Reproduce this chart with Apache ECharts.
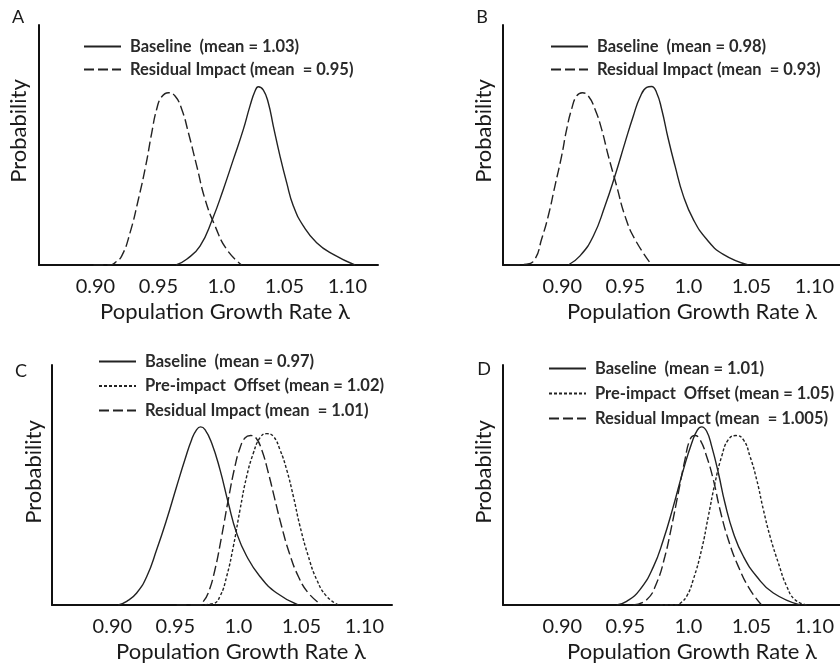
<!DOCTYPE html>
<html>
<head>
<meta charset="utf-8">
<script src="https://cdn.jsdelivr.net/npm/echarts@6/dist/echarts.min.js"></script>
<style>
html,body{margin:0;padding:0;background:#fff;}
#chart{width:840px;height:666px;}
</style>
</head>
<body>
<div id="chart"></div>
<script>
// ---- data ----
const tickValues = [0.90, 0.95, 1.00, 1.05, 1.10];
const tickLabels = ['0.90', '0.95', '1.0', '1.05', '1.10'];
const panelLetters = ['A', 'B', 'C', 'D'];
const xTitle = 'Population Growth Rate λ';
const yTitle = 'Probability';

// Panel A
const aBaseName = 'Baseline  (mean = 1.03)';
const aBaseX = [0.9640,0.9724,0.9830,0.9928,1.0015,1.0095,1.0174,1.0227,1.0267,1.0293,1.0333,1.0372,1.0412,1.0465,1.0518,1.0571,1.0650,1.0756,1.0888,1.1060];
const aBaseY = [0,2.4,7.9,19.0,31.5,44.0,56.5,66.3,72.5,74.3,72.9,67.6,57.9,45.4,34.3,24.6,16.3,9.3,4.4,0];
const aResName = 'Residual Impact (mean  = 0.95)';
const aResX = [0.8984,0.9116,0.9156,0.9209,0.9275,0.9341,0.9399,0.9447,0.9486,0.9526,0.9579,0.9632,0.9685,0.9738,0.9804,0.9870,0.9949,1.0042,1.0161];
const aResY = [0,0,1.0,3.8,13.5,27.4,41.3,55.1,64.9,70.1,71.8,70.4,64.9,55.1,41.3,27.4,16.3,6.5,0];

// Panel B
const bBaseName = 'Baseline  (mean = 0.98)';
const bBaseX = [0.9047,0.9140,0.9246,0.9338,0.9417,0.9497,0.9563,0.9616,0.9669,0.9708,0.9748,0.9788,0.9841,0.9894,0.9960,1.0039,1.0145,1.0277,1.0476];
const bBaseY = [0,3.8,12.1,24.6,37.1,51.0,62.1,69.9,74.0,74.4,71.8,64.9,52.4,41.3,28.8,19.0,10.7,4.4,0];
const bResName = 'Residual Impact (mean  = 0.93)';
const bResX = [0.8584,0.8716,0.8782,0.8835,0.8888,0.8941,0.8994,0.9034,0.9073,0.9113,0.9158,0.9206,0.9259,0.9312,0.9365,0.9431,0.9497,0.9576,0.9709];
const bResY = [0,0.3,2.4,10.7,20.4,32.9,45.4,56.5,64.9,70.4,71.8,70.4,64.9,56.5,45.4,32.9,20.4,10.7,0];

// Panel C
const cBaseName = 'Baseline  (mean = 0.97)';
const cBaseX = [0.9047,0.9114,0.9193,0.9273,0.9352,0.9431,0.9510,0.9576,0.9629,0.9669,0.9700,0.9735,0.9788,0.9854,0.9920,0.9986,1.0066,1.0171,1.0304,1.0475];
const cBaseY = [0,1.5,5.0,11.9,23.1,35.6,49.4,60.6,68.9,73.1,74.2,73.1,67.5,56.4,42.5,30.0,20.3,11.9,5.0,0];
const cPreName = 'Pre-impact  Offset (mean = 1.02)';
const cPreX = [0.9695,0.9801,0.9854,0.9907,0.9960,1.0013,1.0066,1.0119,1.0171,1.0224,1.0277,1.0330,1.0383,1.0436,1.0489,1.0555,1.0621,1.0701,1.0793];
const cPreY = [0,0.6,3.6,11.9,24.4,39.7,53.6,63.3,69.6,71.4,70.3,64.7,56.4,45.3,32.8,20.3,10.6,3.6,0];
const cResName = 'Residual Impact (mean  = 1.01)';
const cResX = [0.9510,0.9682,0.9722,0.9761,0.9814,0.9867,0.9920,0.9973,1.0013,1.0052,1.0097,1.0140,1.0185,1.0238,1.0290,1.0343,1.0404,1.0476,1.0555,1.0661];
const cResY = [0,0,1.5,5.0,14.7,28.6,43.9,57.8,65.4,69.6,70.6,69.6,64.7,55.0,43.9,32.8,21.7,11.9,5.0,0];

// Panel D
const dBaseName = 'Baseline  (mean = 1.01)';
const dBaseX = [0.9431,0.9510,0.9616,0.9722,0.9801,0.9880,0.9960,1.0026,1.0071,1.0105,1.0145,1.0185,1.0238,1.0290,1.0357,1.0436,1.0542,1.0674,1.0886];
const dBaseY = [0,1.5,6.4,15.9,27.1,41.0,56.3,67.4,72.9,74.2,72.4,66.1,55.0,42.5,30.0,20.3,11.9,5.0,0];
const dPreName = 'Pre-impact  Offset (mean = 1.05)';
const dPreX = [0.9775,0.9907,0.9933,0.9986,1.0039,1.0105,1.0158,1.0211,1.0264,1.0317,1.0378,1.0436,1.0489,1.0542,1.0595,1.0648,1.0714,1.0780,1.0846,1.0939];
const dPreY = [0,0,0.6,3.6,10.6,23.1,36.9,50.8,61.9,68.9,70.6,68.9,61.9,52.2,39.7,28.6,17.5,7.8,2.2,0];
const dResName = 'Residual Impact (mean  = 1.005)';
const dResX = [0.9563,0.9669,0.9748,0.9814,0.9867,0.9920,0.9973,1.0013,1.0052,1.0092,1.0145,1.0198,1.0251,1.0317,1.0396,1.0489,1.0581];
const dResY = [0,2.2,9.2,20.3,32.8,46.7,60.6,68.9,70.6,68.9,61.9,52.2,39.7,27.2,16.1,6.4,0];

// axis extents (value units) per panel
const xMin = [0.8552, 0.8529, 0.8521, 0.8529];
const xMax = [1.1243, 1.1203, 1.1219, 1.1203];
const yMax = 100;

// ---- layout / style ----
const FONT = 'Lato, "Open Sans", sans-serif';
const INK = '#1a1a1a';
const LINE = '#222';
const grids = [
  {left: 39, top: 25, width: 339, height: 240},
  {left: 503, top: 25, width: 337, height: 240},
  {left: 52, top: 365, width: 340, height: 240},
  {left: 503, top: 365, width: 337, height: 240}
];
const styles = {
  solid: {type: 'solid'},
  dashed: {type: [10, 4]},
  dotted: {type: [3, 2]}
};

function zip(xs, ys) { return xs.map((x, i) => [x, ys[i]]); }
function mkSeries(name, xs, ys, idx, kind) {
  return {
    type: 'line', name: name, xAxisIndex: idx, yAxisIndex: idx,
    data: zip(xs, ys), smooth: 0.5, symbol: 'none', showSymbol: false,
    silent: true, animation: false,
    lineStyle: Object.assign({color: LINE, width: 1.4}, styles[kind]),
    itemStyle: {color: LINE}
  };
}

const series = [
  mkSeries(aBaseName, aBaseX, aBaseY, 0, 'solid'),
  mkSeries(aResName, aResX, aResY, 0, 'dashed'),
  mkSeries(bBaseName, bBaseX, bBaseY, 1, 'solid'),
  mkSeries(bResName, bResX, bResY, 1, 'dashed'),
  mkSeries(cBaseName, cBaseX, cBaseY, 2, 'solid'),
  mkSeries(cPreName, cPreX, cPreY, 2, 'dotted'),
  mkSeries(cResName, cResX, cResY, 2, 'dashed'),
  mkSeries(dBaseName, dBaseX, dBaseY, 3, 'solid'),
  mkSeries(dPreName, dPreX, dPreY, 3, 'dotted'),
  mkSeries(dResName, dResX, dResY, 3, 'dashed')
];

const xAxes = grids.map((g, i) => ({
  type: 'value', gridIndex: i, min: xMin[i], max: xMax[i],
  splitLine: {show: false}, axisTick: {show: false},
  axisLine: {show: true, onZero: false, lineStyle: {color: '#111', width: 2}},
  axisLabel: {
    show: true, customValues: tickValues, margin: 12,
    fontFamily: FONT, fontSize: 20, color: INK,
    formatter: function (v) {
      let best = 0;
      tickValues.forEach((t, k) => { if (Math.abs(t - v) < Math.abs(tickValues[best] - v)) best = k; });
      return tickLabels[best];
    }
  }
}));
const yAxes = grids.map((g, i) => ({
  type: 'value', gridIndex: i, min: 0, max: yMax,
  splitLine: {show: false}, axisTick: {show: false}, axisLabel: {show: false},
  axisLine: {show: true, lineStyle: {color: '#111', width: 2}}
}));

function mkLegend(names, left, top, gap) {
  return {
    data: names, orient: 'vertical', left: left, top: top, padding: 0,
    itemWidth: 37, itemHeight: 14, itemGap: gap, selectedMode: false,
    itemStyle: {color: 'rgba(0,0,0,0)', borderWidth: 0, opacity: 0},
    textStyle: {fontFamily: FONT, fontSize: 16.5, fontWeight: 'bold', color: '#2a2a2a', lineHeight: 14, padding: [0, 0, 0, 4]}
  };
}
const legends = [
  mkLegend([aBaseName, aResName], 83, 38, 6),
  mkLegend([bBaseName, bResName], 550, 38, 6),
  mkLegend([cBaseName, cPreName, cResName], 98, 353, 7.5),
  mkLegend([dBaseName, dPreName, dResName], 548, 360, 8)
];

function txt(text, x, y, size, rot) {
  return {
    type: 'text', x: x, y: y, rotation: rot || 0, silent: true,
    style: {text: text, fill: INK, font: size + 'px ' + FONT,
            align: 'center', verticalAlign: 'middle', textAlign: 'center', textVerticalAlign: 'middle'}
  };
}
const graphic = [
  txt(panelLetters[0], 18, 17, 18), txt(panelLetters[1], 482, 17, 18),
  txt(panelLetters[2], 21, 371, 18), txt(panelLetters[3], 484, 369, 18),
  txt(xTitle, 225, 312, 22), txt(xTitle, 692, 312, 22),
  txt(xTitle, 241, 652, 22), txt(xTitle, 692, 652, 22),
  txt(yTitle, 19, 131, 22, Math.PI / 2), txt(yTitle, 484, 131, 22, Math.PI / 2),
  txt(yTitle, 34, 472, 22, Math.PI / 2), txt(yTitle, 484, 472, 22, Math.PI / 2)
];

const chart = echarts.init(document.getElementById('chart'), null, {renderer: 'canvas'});
chart.setOption({
  backgroundColor: '#fff',
  animation: false,
  grid: grids,
  xAxis: xAxes,
  yAxis: yAxes,
  legend: legends,
  graphic: graphic,
  series: series
});
</script>
</body>
</html>
